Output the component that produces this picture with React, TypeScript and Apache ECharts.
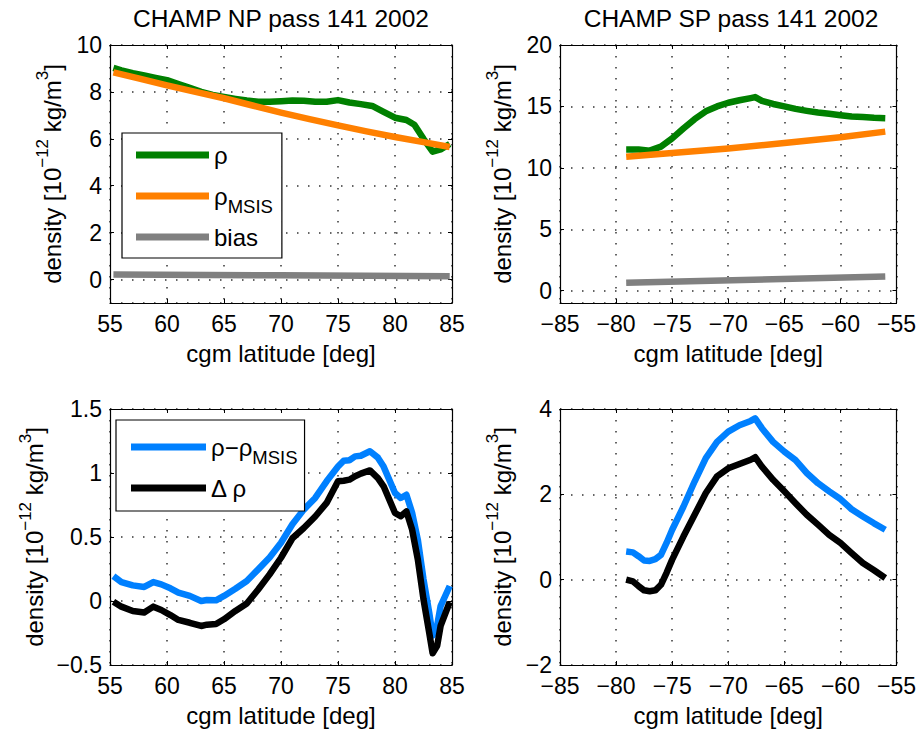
import React, { useEffect, useRef } from 'react';
import * as echarts from 'echarts';

// ---------- data ----------
// Panel 1: CHAMP NP pass 141 2002
const npRhoLat = [55.3, 56, 57, 58, 59, 60, 61, 62, 63, 64, 65, 66, 67, 68, 69, 70, 71, 72, 73, 74, 75, 76, 77, 78, 79, 80, 81, 81.7, 82.5, 83.3, 84, 84.8];
const npRho = [9.02, 8.92, 8.8, 8.7, 8.6, 8.5, 8.33, 8.17, 8.0, 7.87, 7.78, 7.7, 7.63, 7.58, 7.58, 7.6, 7.63, 7.62, 7.58, 7.58, 7.65, 7.55, 7.48, 7.4, 7.15, 6.9, 6.8, 6.6, 6.0, 5.45, 5.55, 5.78];
const npMsisLat = [55.3, 57.5, 60, 62.5, 65, 67.5, 70, 72.5, 75, 77.5, 80, 82.5, 84.8];
const npMsis = [8.83, 8.58, 8.28, 8.0, 7.73, 7.42, 7.12, 6.84, 6.57, 6.32, 6.08, 5.86, 5.65];
const npBiasLat = [55.3, 70, 84.8];
const npBias = [0.22, 0.18, 0.14];

// Panel 2: CHAMP SP pass 141 2002
const spRhoLat = [-79.1, -78, -77, -76, -75, -74, -73, -72, -71, -70, -69, -68, -67.6, -67, -66, -65, -64, -63, -62, -61, -60, -59, -58, -57, -56];
const spRho = [11.5, 11.5, 11.4, 11.73, 12.4, 13.2, 13.96, 14.6, 15.0, 15.3, 15.5, 15.68, 15.76, 15.45, 15.2, 15.0, 14.8, 14.64, 14.5, 14.4, 14.29, 14.18, 14.13, 14.07, 14.04];
const spMsisLat = [-79.1, -75, -70, -65, -60, -56];
const spMsis = [10.9, 11.2, 11.58, 12.02, 12.5, 12.95];
const spBiasLat = [-79.1, -56];
const spBias = [0.65, 1.15];

// Panel 3: NP differences
const npDiffLat = [55.3, 56, 57, 58, 58.8, 59.5, 60.3, 61, 62, 63, 63.5, 64.3, 65, 66, 67, 68, 69, 70, 71, 72, 73, 74, 75, 75.5, 76, 76.5, 77, 77.8, 78.5, 79, 80, 80.5, 81, 81.5, 82, 82.5, 83, 83.3, 83.7, 84, 84.8];
const npDiff = [0.195, 0.148, 0.122, 0.11, 0.148, 0.13, 0.099, 0.065, 0.04, 0.0, 0.008, 0.005, 0.04, 0.096, 0.156, 0.247, 0.34, 0.455, 0.6, 0.714, 0.805, 0.935, 1.05, 1.096, 1.1, 1.13, 1.135, 1.17, 1.12, 1.05, 0.844, 0.805, 0.83, 0.69, 0.48, 0.17, -0.09, -0.27, -0.19, -0.04, 0.117];
const npDelta = [-0.005, -0.044, -0.078, -0.09, -0.044, -0.07, -0.11, -0.148, -0.17, -0.195, -0.185, -0.18, -0.143, -0.078, -0.02, 0.09, 0.208, 0.338, 0.49, 0.57, 0.66, 0.766, 0.935, 0.94, 0.948, 0.975, 0.995, 1.02, 0.96, 0.896, 0.688, 0.662, 0.7, 0.558, 0.325, 0.013, -0.247, -0.408, -0.35, -0.195, -0.008];

// Panel 4: SP differences
const spDiffLat = [-79.1, -78.5, -78, -77.5, -77, -76.5, -76, -75.5, -75, -74, -73, -72, -71, -70, -69, -68, -67.6, -67, -66, -65, -64, -63, -62, -61, -60, -59, -58, -57, -56];
const spDiff = [0.66, 0.64, 0.55, 0.45, 0.44, 0.48, 0.58, 0.86, 1.17, 1.71, 2.3, 2.85, 3.23, 3.47, 3.62, 3.72, 3.78, 3.55, 3.23, 3.0, 2.8, 2.5, 2.26, 2.07, 1.89, 1.65, 1.48, 1.32, 1.17];
const spDelta = [0.0, -0.04, -0.15, -0.25, -0.27, -0.25, -0.12, 0.16, 0.47, 1.01, 1.52, 2.03, 2.42, 2.61, 2.71, 2.81, 2.87, 2.65, 2.34, 2.07, 1.79, 1.52, 1.29, 1.05, 0.86, 0.62, 0.39, 0.22, 0.04];

const titles = ['CHAMP NP pass 141 2002', 'CHAMP SP pass 141 2002'];
const xName = 'cgm latitude [deg]';
// axis ranges: [min, max, step]
const xRanges = [[55, 85, 5], [-85, -55, 5], [55, 85, 5], [-85, -55, 5]];
const yRanges = [[-1, 10, 2], [-1, 20, 5], [-0.5, 1.5, 0.5], [-2, 4, 2]];

const FONT = '"Liberation Sans", Arial, Helvetica, sans-serif';
const MINUS = '\u2212';
const fmt = (v: number) => (v < 0 ? MINUS + String(Math.abs(v)) : String(v));
const pairs = (xs: number[], ys: number[]) => xs.map((x, i) => [x, ys[i]]);
const isMultiple = (v: number, step: number) => Math.abs(v / step - Math.round(v / step)) < 1e-6;

export default function App() {
  const ref = useRef<HTMLDivElement>(null);
  useEffect(() => {
    const chart = echarts.init(ref.current!, null, { renderer: 'svg' });

    const grids = [
      { left: 110, top: 45, width: 342, height: 258 },
      { left: 560, top: 45, width: 343, height: 258 },
      { left: 110, top: 409, width: 342, height: 256 },
      { left: 560, top: 409, width: 343, height: 256 },
    ];

    const tickStyle = { show: true, inside: true, length: 4, lineStyle: { color: '#000', width: 1 } };
    const axisLine = { show: true, onZero: false, lineStyle: { color: '#000', width: 1.2 } };
    const split = { show: true, lineStyle: { color: '#333', width: 1.5, type: [1.5, 9.5] as any } };

    const scaleOpts = (r: number[]) => {
      const o: any = { min: r[0], max: r[1] };
      if (isMultiple(r[0], r[2])) o.interval = r[2];
      else { o.minInterval = r[2]; o.maxInterval = r[2]; o.splitNumber = Math.round((r[1] - r[0]) / r[2]); }
      return o;
    };

    const xAxis: any[] = [];
    const yAxis: any[] = [];
    for (let i = 0; i < 4; i++) {
      const xr = xRanges[i];
      xAxis.push({
        type: 'value', gridIndex: i, position: 'bottom', ...scaleOpts(xr),
        axisLine, axisTick: tickStyle, splitLine: split,
        axisLabel: {
          margin: 9, color: '#000', fontFamily: FONT, fontSize: 23,
          formatter: (v: number) => (isMultiple(v, xr[2]) ? fmt(v) : ''),
        },
        name: xName, nameLocation: 'middle', nameGap: 38,
        nameTextStyle: { fontFamily: FONT, fontSize: 24, color: '#000' },
      });
    }
    for (let i = 0; i < 4; i++) {
      const xr = xRanges[i];
      xAxis.push({
        type: 'value', gridIndex: i, position: 'top', ...scaleOpts(xr),
        axisLine, axisTick: tickStyle, splitLine: { show: false }, axisLabel: { show: false },
      });
    }
    for (let i = 0; i < 4; i++) {
      const yr = yRanges[i];
      yAxis.push({
        type: 'value', gridIndex: i, position: 'left', ...scaleOpts(yr),
        axisLine, axisTick: tickStyle, splitLine: split,
        axisLabel: {
          margin: 8, color: '#000', fontFamily: FONT, fontSize: 23,
          formatter: (v: number) => (isMultiple(v, yr[2]) ? fmt(v) : ''),
        },
        name: 'density [10{sup|' + MINUS + '12} kg/m{sup|3}]',
        nameLocation: 'middle', nameRotate: 90, nameGap: 40,
        nameTextStyle: {
          fontFamily: FONT, fontSize: 24, lineHeight: 36, color: '#000',
          rich: { sup: { fontFamily: FONT, fontSize: 17, lineHeight: 14, verticalAlign: 'top', color: '#000' } },
        },
      });
    }
    for (let i = 0; i < 4; i++) {
      const yr = yRanges[i];
      yAxis.push({
        type: 'value', gridIndex: i, position: 'right', ...scaleOpts(yr),
        axisLine, axisTick: tickStyle, splitLine: { show: false }, axisLabel: { show: false },
      });
    }

    const line = (name: string, xs: number[], ys: number[], color: string, idx: number) => ({
      type: 'line', name, data: pairs(xs, ys), xAxisIndex: idx, yAxisIndex: idx,
      symbol: 'none', showSymbol: false, smooth: false,
      lineStyle: { color, width: 6.5, join: 'round', cap: 'butt' },
      itemStyle: { color },
      emphasis: { disabled: true },
    });

    const GREEN = '#008000', ORANGE = '#ff8000', GRAY = '#808080', BLUE = '#0080ff', BLACK = '#000000';

    const series = [
      line('ρ', npRhoLat, npRho, GREEN, 0),
      line('ρMSIS', npMsisLat, npMsis, ORANGE, 0),
      line('bias', npBiasLat, npBias, GRAY, 0),
      line('ρ', spRhoLat, spRho, GREEN, 1),
      line('ρMSIS', spMsisLat, spMsis, ORANGE, 1),
      line('bias', spBiasLat, spBias, GRAY, 1),
      line('ρ−ρMSIS', npDiffLat, npDiff, BLUE, 2),
      line('Δ ρ', npDiffLat, npDelta, BLACK, 2),
      line('ρ−ρMSIS', spDiffLat, spDiff, BLUE, 3),
      line('Δ ρ', spDiffLat, spDelta, BLACK, 3),
    ];

    const legendFmt = (name: string) => {
      if (name === 'ρMSIS') return '{r|ρ}{sub|MSIS}';
      if (name === 'ρ−ρMSIS') return '{r|ρ−ρ}{sub|MSIS}';
      return '{r|' + name + '}';
    };
    const legendText = {
      color: '#000', fontFamily: FONT, fontSize: 24, lineHeight: 40,
      rich: {
        r: { fontFamily: FONT, fontSize: 24, lineHeight: 40, color: '#000' },
        sub: { fontFamily: FONT, fontSize: 18.5, lineHeight: 8, verticalAlign: 'bottom', color: '#000' },
      },
    };
    const legendBase = {
      orient: 'vertical', icon: 'rect', itemHeight: 7, itemGap: 1,
      borderColor: '#000', borderWidth: 1.2, backgroundColor: '#fff', borderRadius: 0,
      selectedMode: false, textStyle: legendText, formatter: legendFmt,
    };

    const titleStyle = { fontFamily: FONT, fontSize: 24.5, fontWeight: 'normal', color: '#000' };
    chart.setOption({
      animation: false,
      backgroundColor: '#fff',
      title: [
        { text: titles[0], left: 276, top: 1, textAlign: 'center', textStyle: titleStyle },
        { text: titles[1], left: 726, top: 1, textAlign: 'center', textStyle: titleStyle },
      ],
      grid: grids.map((g) => ({ ...g, containLabel: false, show: false })),
      xAxis, yAxis, series,
      legend: [
        { ...legendBase, data: ['ρ', 'ρMSIS', 'bias'], left: 122, top: 133, itemWidth: 73, padding: [2, 9, 1, 14] },
        { ...legendBase, data: ['ρ−ρMSIS', 'Δ ρ'], left: 116, top: 420, itemWidth: 75, padding: [7, 7, 3, 15] },
      ],
    });

    return () => chart.dispose();
  }, []);
  return <div ref={ref} style={{ position: 'fixed', left: 0, top: 0, width: 919, height: 732 }} />;
}
